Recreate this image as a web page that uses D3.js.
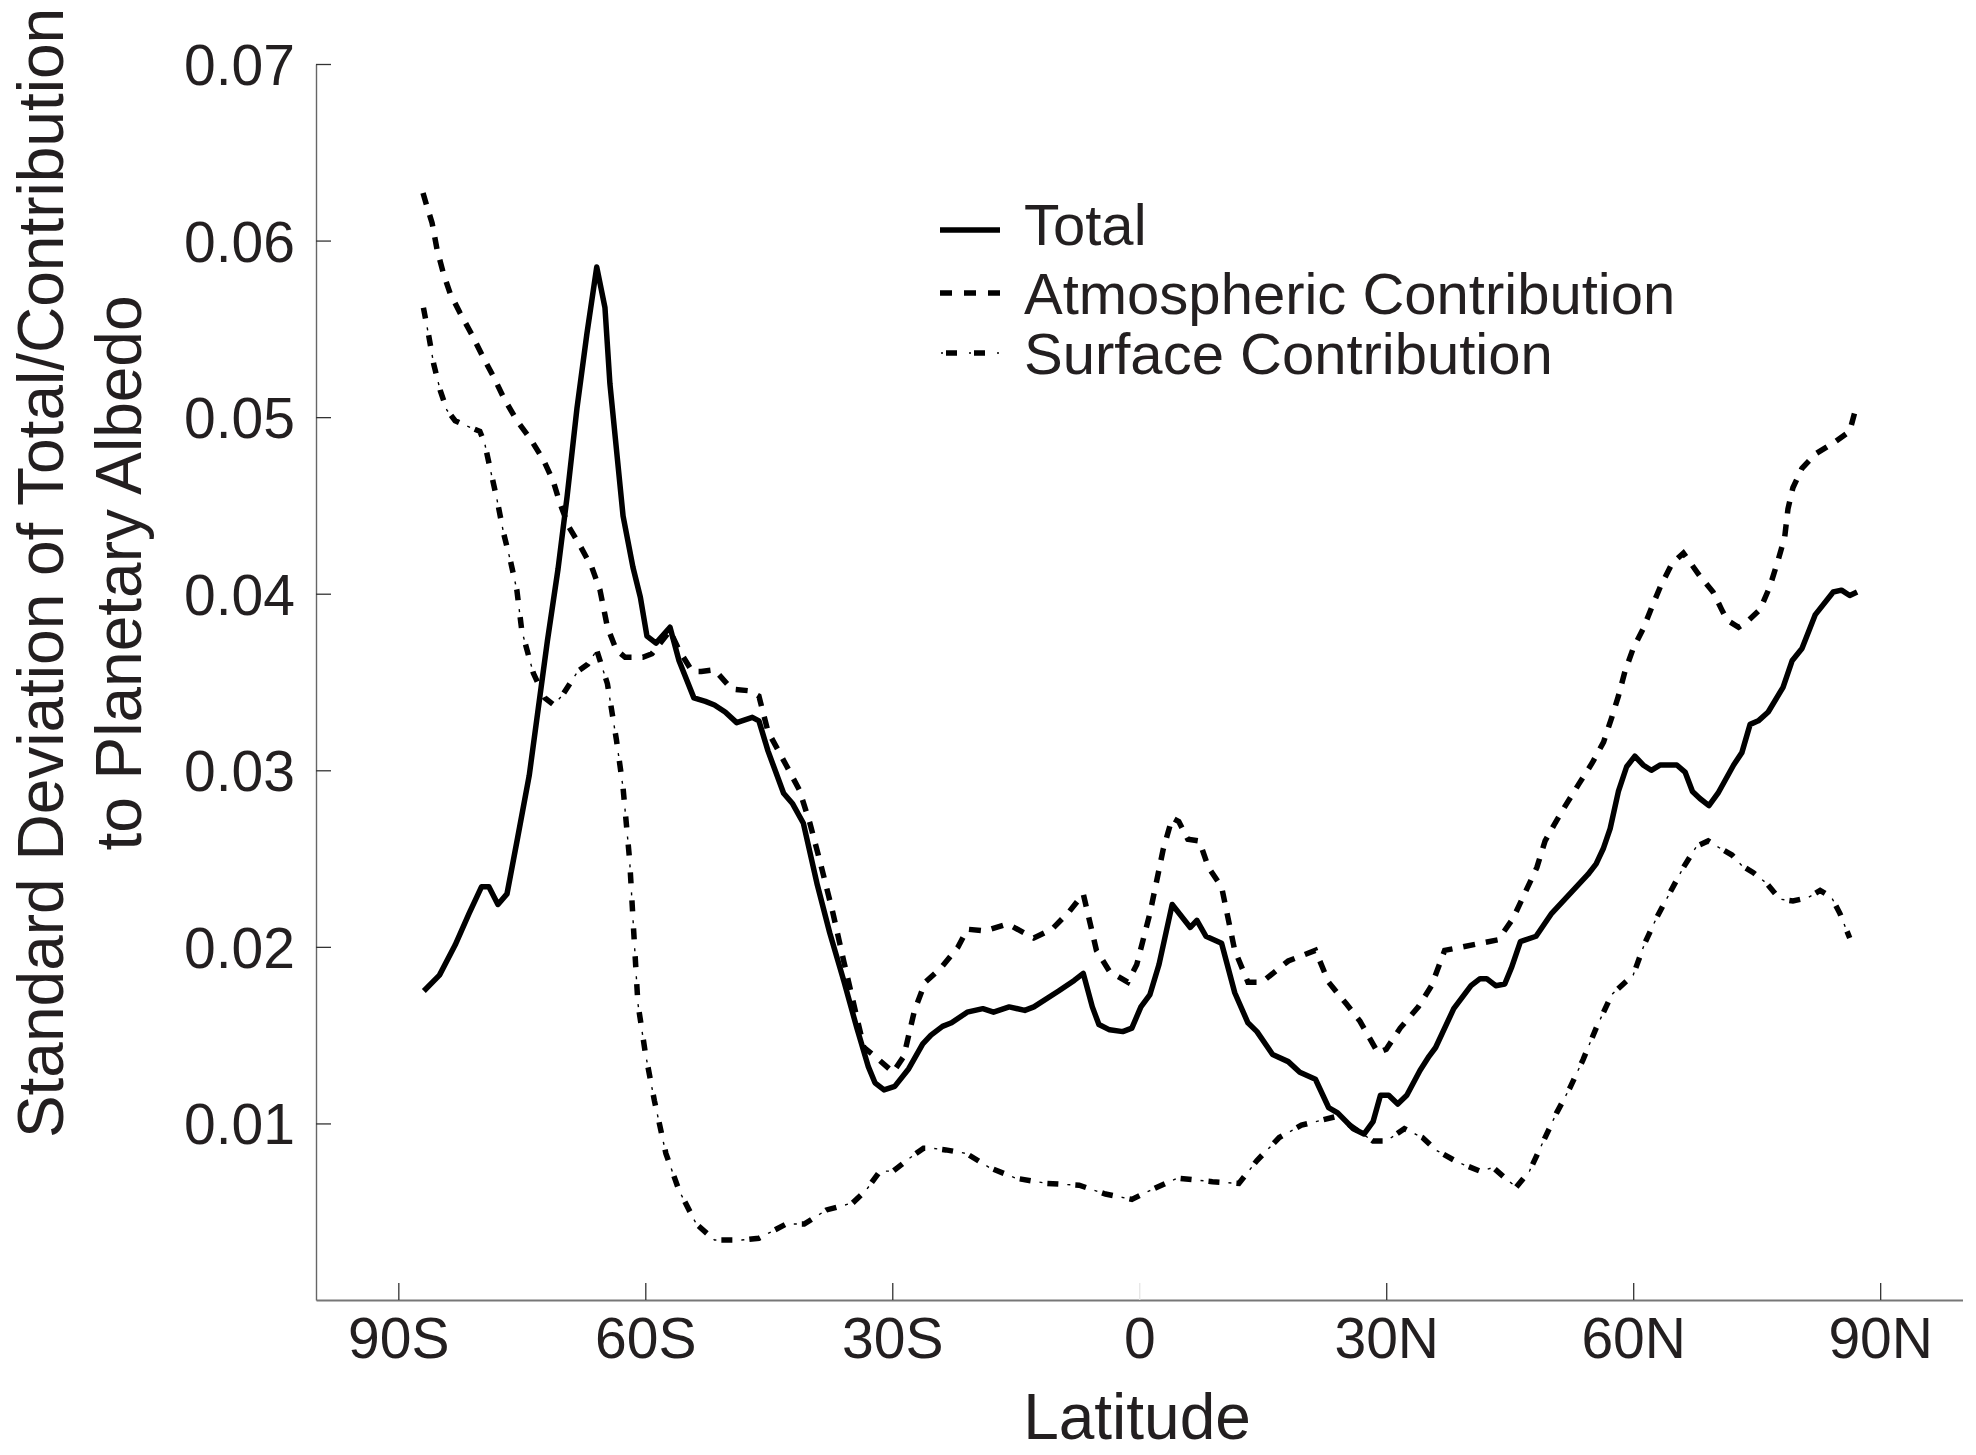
<!DOCTYPE html>
<html>
<head>
<meta charset="utf-8">
<script src="https://cdn.jsdelivr.net/npm/d3@7"></script>
<style>
  html, body { margin: 0; padding: 0; background: #ffffff; }
  svg text { font-family: "Liberation Sans", Arial, Helvetica, sans-serif; fill: #231f20; }
</style>
</head>
<body>
<svg id="chart" width="1976" height="1455"></svg>
<script>
// ---------------- DATA ----------------
const xTickValues = [-90, -60, -30, 0, 30, 60, 90];
const xTickLabels = ["90S", "60S", "30S", "0", "30N", "60N", "90N"];
const yTickValues = [0.01, 0.02, 0.03, 0.04, 0.05, 0.06, 0.07];
const seriesNames = ["Total", "Atmospheric Contribution", "Surface Contribution"];

const totalLat = [
  -86.9, -85.0, -83.1, -81.4, -79.9, -79.0, -77.9, -76.8, -75.5, -74.1,
  -73.0, -71.9, -70.6, -69.5, -68.3, -67.1, -65.9, -64.9, -64.3, -62.7,
  -61.5, -60.6, -59.8, -58.7, -57.0, -55.9, -54.1, -52.7, -51.6, -50.3,
  -48.9, -47.0, -46.2, -45.1, -43.2, -42.1, -40.8, -39.1, -37.6, -35.9,
  -34.3, -32.9, -32.1, -31.0, -29.7, -28.0, -26.3, -25.3, -23.9, -22.8,
  -20.9, -19.0, -17.7, -15.8, -13.9, -12.8, -9.8, -7.9, -6.8, -5.7,
  -4.9, -3.6, -2.0, -0.9, 0.2, 1.3, 2.4, 4.0, 6.2, 7.0,
  8.1, 10.0, 11.6, 13.2, 14.3, 16.2, 18.1, 19.5, 21.4, 23.0,
  24.1, 26.0, 27.3, 28.4, 29.3, 30.3, 31.4, 32.5, 34.1, 35.2,
  36.0, 38.2, 40.3, 41.4, 42.2, 43.3, 44.4, 45.2, 46.3, 48.2,
  50.1, 52.3, 54.5, 55.5, 56.4, 57.2, 58.2, 59.2, 60.2, 61.2,
  62.2, 63.3, 65.3, 66.3, 67.2, 68.1, 69.2, 70.3, 72.2, 73.2,
  74.2, 75.2, 76.4, 78.2, 79.3, 80.5, 82.1, 84.3, 85.3, 86.3,
  87.2
];
const totalValue = [
  0.0175, 0.0184, 0.0201, 0.0219, 0.0234, 0.0234, 0.0224, 0.0230, 0.0262, 0.0297,
  0.0335, 0.0373, 0.0414, 0.0455, 0.0505, 0.0547, 0.0585, 0.0562, 0.0519, 0.0444,
  0.0415, 0.0398, 0.0376, 0.0372, 0.0381, 0.0362, 0.0341, 0.0339, 0.0337, 0.0333,
  0.0327, 0.0330, 0.0328, 0.0311, 0.0287, 0.0281, 0.0270, 0.0235, 0.0208, 0.0181,
  0.0154, 0.0132, 0.0123, 0.0119, 0.0121, 0.0131, 0.0145, 0.0150, 0.0155, 0.0157,
  0.0163, 0.0165, 0.0163, 0.0166, 0.0164, 0.0166, 0.0175, 0.0181, 0.0185, 0.0166,
  0.0156, 0.0153, 0.0152, 0.0154, 0.0166, 0.0173, 0.0190, 0.0224, 0.0211, 0.0215,
  0.0206, 0.0202, 0.0174, 0.0157, 0.0152, 0.0139, 0.0135, 0.0129, 0.0125, 0.0109,
  0.0106, 0.0097, 0.0094, 0.0101, 0.0116, 0.0116, 0.0111, 0.0116, 0.0130, 0.0138,
  0.0143, 0.0165, 0.0178, 0.0182, 0.0182, 0.0178, 0.0179, 0.0188, 0.0203, 0.0206,
  0.0219, 0.0230, 0.0241, 0.0247, 0.0256, 0.0267, 0.0288, 0.0302, 0.0308, 0.0303,
  0.0300, 0.0303, 0.0303, 0.0299, 0.0288, 0.0284, 0.0280, 0.0287, 0.0303, 0.0310,
  0.0326, 0.0328, 0.0333, 0.0347, 0.0362, 0.0369, 0.0388, 0.0401, 0.0402, 0.0399,
  0.0401
];

const atmosLat = [
  -87.0, -86.5, -85.9, -85.3, -84.5, -83.7, -82.5, -81.1, -79.7, -78.45,
  -77.2, -75.6, -74.0, -72.4, -71.2, -70.35, -69.3, -67.9, -66.5, -65.5,
  -64.6, -63.5, -62.45, -60.3, -59.2, -57.0, -55.9, -54.3, -53.2, -51.6,
  -49.5, -47.3, -46.2, -45.1, -42.9, -41.3, -40.0, -38.65, -37.2, -35.9,
  -34.8, -33.45, -32.1, -29.9, -28.6, -27.3, -26.0, -24.1, -22.0, -20.9,
  -18.8, -16.0, -12.8, -10.6, -8.5, -6.8, -5.2, -3.6, -1.4, -0.3,
  1.3, 2.9, 4.0, 4.8, 5.9, 7.3, 8.4, 10.0, 11.6, 13.2,
  14.9, 18.1, 21.4, 23.0, 25.1, 26.8, 29.0, 30.0, 31.7, 33.9,
  35.5, 37.1, 39.3, 41.4, 43.6, 45.4, 46.9, 48.3, 49.3, 50.5,
  51.9, 53.5, 55.0, 56.4, 57.4, 58.2, 59.0, 60.0, 61.2, 62.4,
  63.3, 64.7, 66.1, 68.1, 69.7, 70.75, 71.4, 72.8, 73.8, 75.4,
  76.6, 77.6, 78.4, 78.8, 79.4, 80.5, 82.1, 84.5, 86.3, 87.1
];
const atmosValue = [
  0.0627, 0.0619, 0.0610, 0.0595, 0.0581, 0.0570, 0.0559, 0.0547, 0.0534, 0.0523,
  0.0511, 0.0498, 0.0488, 0.0476, 0.0464, 0.0451, 0.0438, 0.0427, 0.0415, 0.0402,
  0.0381, 0.0368, 0.0364, 0.0364, 0.0366, 0.0379, 0.0368, 0.0356, 0.0356, 0.0357,
  0.0346, 0.0345, 0.0342, 0.0322, 0.0303, 0.0289, 0.0270, 0.0246, 0.0219, 0.0192,
  0.0170, 0.0143, 0.0138, 0.0129, 0.0138, 0.0164, 0.0180, 0.0188, 0.0200, 0.0210,
  0.0209, 0.0213, 0.0205, 0.0210, 0.0220, 0.0230, 0.0198, 0.0186, 0.0180, 0.0190,
  0.0219, 0.0255, 0.0273, 0.0271, 0.0261, 0.0260, 0.0245, 0.0234, 0.0198, 0.0180,
  0.0180, 0.0192, 0.0198, 0.0180, 0.0168, 0.0158, 0.0140, 0.0142, 0.0154, 0.0166,
  0.0178, 0.0198, 0.0200, 0.0202, 0.0204, 0.0216, 0.0231, 0.0245, 0.0260, 0.0270,
  0.0281, 0.0293, 0.0304, 0.0316, 0.0330, 0.0342, 0.0356, 0.0369, 0.0380, 0.0394,
  0.0404, 0.0417, 0.0423, 0.0410, 0.0401, 0.0391, 0.0385, 0.0381, 0.0384, 0.0391,
  0.0404, 0.0419, 0.0432, 0.0448, 0.0460, 0.0471, 0.0479, 0.0486, 0.0492, 0.0506
];

const surfaceLat = [
  -86.95, -86.3, -85.7, -84.9, -84.1, -83.1, -81.7, -80.1, -79.5, -78.9,
  -78.0, -77.2, -76.4, -75.6, -75.0, -73.6, -72.2, -71.1, -70.0, -68.2,
  -67.0, -65.9, -64.6, -63.5, -62.7, -61.9, -61.4, -60.9, -60.0, -58.9,
  -57.5, -55.9, -53.8, -51.6, -48.3, -46.2, -42.9, -40.7, -38.0, -34.8,
  -33.2, -31.5, -29.9, -27.7, -26.2, -25.2, -23.5, -21.0, -18.2, -15.0,
  -11.2, -7.3, -4.1, -0.9, 1.3, 4.6, 8.9, 12.1, 14.3, 17.0,
  19.7, 24.0, 28.4, 30.0, 32.2, 34.4, 36.0, 38.7, 41.4, 43.0,
  44.7, 45.8, 47.4, 49.0, 50.7, 52.3, 53.9, 55.5, 57.4, 58.8,
  60.0, 61.4, 62.9, 64.5, 66.1, 67.7, 69.1, 70.5, 72.0, 73.2,
  74.6, 76.2, 77.8, 79.4, 81.3, 82.7, 84.1, 85.1, 86.3
];
const surfaceValue = [
  0.0562, 0.0546, 0.0530, 0.0515, 0.0504, 0.0498, 0.0495, 0.0492, 0.0485, 0.0472,
  0.0453, 0.0434, 0.0419, 0.0402, 0.0379, 0.0355, 0.0341, 0.0337, 0.0343, 0.0356,
  0.0360, 0.0368, 0.0349, 0.0317, 0.0290, 0.0249, 0.0208, 0.0168, 0.0140, 0.0113,
  0.0083, 0.0062, 0.0043, 0.0034, 0.0034, 0.0035, 0.0043, 0.0043, 0.0051, 0.0055,
  0.0062, 0.0073, 0.0073, 0.0081, 0.0086, 0.0086, 0.0085, 0.0083, 0.0075, 0.0069,
  0.0066, 0.0065, 0.0060, 0.0057, 0.0062, 0.0069, 0.0067, 0.0066, 0.0079, 0.0092,
  0.0099, 0.0104, 0.0090, 0.0090, 0.0097, 0.0092, 0.0085, 0.0078, 0.0073, 0.0075,
  0.0068, 0.0064, 0.0073, 0.0089, 0.0106, 0.0120, 0.0136, 0.0154, 0.0173, 0.0179,
  0.0184, 0.0202, 0.0217, 0.0231, 0.0245, 0.0257, 0.0260, 0.0256, 0.0252, 0.0246,
  0.0242, 0.0236, 0.0227, 0.0226, 0.0228, 0.0232, 0.0228, 0.0219, 0.0205
];

// ---------------- DRAWING ----------------
const svg = d3.select("#chart");
const x = d3.scaleLinear().domain([-100, 100]).range([316, 1962.5]);
const y = d3.scaleLinear().domain([0, 0.07]).range([1300, 64]);

// X axis
const xAxis = svg.append("g").attr("transform", "translate(0,1300)")
  .call(d3.axisBottom(x).tickValues(xTickValues).tickSizeInner(-17).tickSizeOuter(0)
    .tickPadding(18).tickFormat((d, i) => xTickLabels[i]));
xAxis.select(".domain").attr("stroke", "#777").attr("stroke-width", 2.2);
xAxis.selectAll(".tick line").attr("stroke", d => d === 0 ? "#e6e6e6" : "#333").attr("stroke-width", 1.3);
xAxis.selectAll(".tick text").attr("font-size", 57).style("fill", "#231f20")
  .attr("font-family", "'Liberation Sans', Arial, sans-serif");

// Y axis
const yAxis = svg.append("g").attr("transform", "translate(316,0)")
  .call(d3.axisLeft(y).tickValues(yTickValues).tickSizeInner(-15).tickSizeOuter(0)
    .tickPadding(21).tickFormat(d3.format(".2f")));
yAxis.select(".domain").attr("stroke", "#666").attr("stroke-width", 1.4);
yAxis.selectAll(".tick line").attr("stroke", "#333").attr("stroke-width", 1.3);
yAxis.selectAll(".tick text").attr("font-size", 57).attr("dy", "0.36em").style("fill", "#231f20")
  .attr("font-family", "'Liberation Sans', Arial, sans-serif");

// Axis titles
svg.append("text").attr("x", 1137).attr("y", 1439).attr("text-anchor", "middle")
  .attr("font-size", 64).text("Latitude");
svg.append("text").attr("transform", "translate(63,573) rotate(-90)").attr("text-anchor", "middle")
  .attr("font-size", 64).text("Standard Deviation of Total/Contribution");
svg.append("text").attr("transform", "translate(141,573) rotate(-90)").attr("text-anchor", "middle")
  .attr("font-size", 64).text("to Planetary Albedo");

// Lines
const line = d3.line().x(d => x(d[0])).y(d => y(d[1]));
const totalData = d3.zip(totalLat, totalValue);
const atmosData = d3.zip(atmosLat, atmosValue);
const surfaceData = d3.zip(surfaceLat, surfaceValue);

const dashStyle = "12 11";
const dotThick = "11 17";
const dotThin = "3 25";
const lw = 5.5;

svg.append("path").datum(surfaceData).attr("d", line).attr("fill", "none")
  .attr("stroke", "#000").attr("stroke-width", lw).attr("stroke-dasharray", dotThick);
svg.append("path").datum(surfaceData).attr("d", line).attr("fill", "none")
  .attr("stroke", "#000").attr("stroke-width", 1.4).attr("stroke-dasharray", dotThin)
  .attr("stroke-dashoffset", 8);
svg.append("path").datum(atmosData).attr("d", line).attr("fill", "none")
  .attr("stroke", "#000").attr("stroke-width", lw).attr("stroke-dasharray", dashStyle);
svg.append("path").datum(totalData).attr("d", line).attr("fill", "none")
  .attr("stroke", "#000").attr("stroke-width", lw).attr("stroke-linejoin", "round");

// Legend
const legendRows = [
  { name: seriesNames[0], ty: 224, ly: 230 },
  { name: seriesNames[1], ty: 293, ly: 293 },
  { name: seriesNames[2], ty: 353, ly: 353 }
];
legendRows.forEach((r, i) => {
  if (i === 0) {
    svg.append("line").attr("x1", 940).attr("x2", 1000).attr("y1", r.ly).attr("y2", r.ly)
      .attr("stroke", "#000").attr("stroke-width", lw);
  } else if (i === 1) {
    svg.append("line").attr("x1", 940).attr("x2", 1000).attr("y1", r.ly).attr("y2", r.ly)
      .attr("stroke", "#000").attr("stroke-width", lw).attr("stroke-dasharray", "12 12");
  } else {
    svg.append("line").attr("x1", 940).attr("x2", 1000).attr("y1", r.ly).attr("y2", r.ly)
      .attr("stroke", "#000").attr("stroke-width", lw).attr("stroke-dasharray", "11 17")
      .attr("stroke-dashoffset", -6);
    svg.append("line").attr("x1", 940).attr("x2", 1000).attr("y1", r.ly).attr("y2", r.ly)
      .attr("stroke", "#000").attr("stroke-width", 1.4).attr("stroke-dasharray", "2 26")
      .attr("stroke-dashoffset", -1);
  }
  svg.append("text").attr("x", 1024).attr("y", r.ty).attr("dy", "0.36em")
    .attr("font-size", 58).text(r.name);
});
</script>
</body>
</html>
